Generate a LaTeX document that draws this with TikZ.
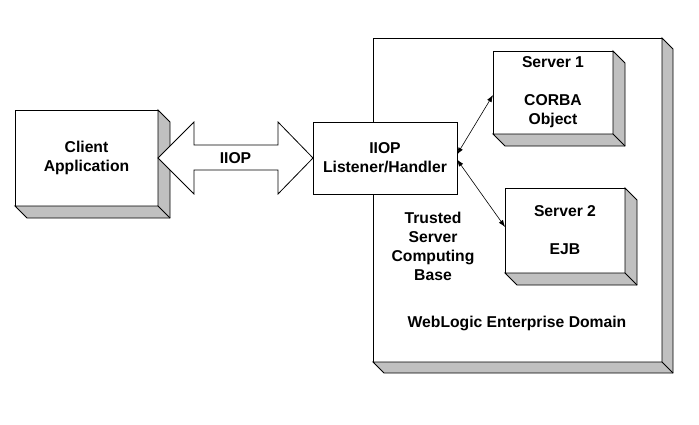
\documentclass[tikz,border=0pt]{standalone}
\usepackage{fontspec}
\setmainfont{Liberation Sans}
\usetikzlibrary{arrows.meta,calc}
\definecolor{depthgrey}{HTML}{C0C0C0}
\newcommand\drawdepth[2]{%
  \filldraw[depthface] (#1.north east) -- ++(#2,#2) -- ($(#1.south east)+(#2,#2)$) -- ($(#1.south west)+(#2,#2)$) -- (#1.south west) -- (#1.south east) -- cycle;
  \draw[depthface] (#1.south east) -- ++(#2,#2);}
\begin{document}
\begin{tikzpicture}[x=1pt,y=-1pt,
  every node/.style={font=\fontsize{15.7}{19}\selectfont\bfseries, align=center, outer sep=0pt, inner sep=0pt},
  boxnode/.style={draw, fill=white, line width=0.9pt},
  depthface/.style={draw, fill=depthgrey, line width=0.9pt, line join=miter},
  link/.style={line width=0.6pt, {Latex[length=7pt,width=5pt]}-{Latex[length=7pt,width=5pt]}},
  fatarrow/.style={draw, fill=white, line width=0.8pt, line join=miter}]
\useasboundingbox (0,0) rectangle (699,424);
% domain
\node[boxnode, minimum width=289pt, minimum height=324pt] (domain) at (517.5,200) {};
\drawdepth{domain}{11}
% servers
\node[boxnode, minimum width=120pt, minimum height=83pt] (s1) at (553,92.5) {Server 1\\ \\ CORBA\\ Object};
\drawdepth{s1}{12}
\node[boxnode, minimum width=120pt, minimum height=85pt] (s2) at (565,230.5) {Server 2\\ \\ EJB};
\drawdepth{s2}{12}
% listener
\node[boxnode, minimum width=144pt, minimum height=72pt] (listener) at (385,158) {IIOP\\ Listener/Handler};
% links
\draw[link] ([yshift=3.5pt]listener.east) -- ([yshift=-2.5pt]s1.west);
\draw[link] ([yshift=-1.5pt]listener.east) -- ([yshift=3.5pt]s2.west);
% client
\node[boxnode, minimum width=143pt, minimum height=96pt] (client) at (86.5,158) {Client\\ Application};
\drawdepth{client}{12}
% fat double arrow
\path (client.east) coordinate (L) (listener.west) coordinate (R);
\filldraw[fatarrow] (L) -- ($(L)+(36,-36)$) -- ($(L)+(36,-13)$) -- ($(R)+(-35,-13)$) -- ($(R)+(-35,-36)$) -- (R) -- ($(R)+(-35,36)$) -- ($(R)+(-35,12)$) -- ($(L)+(36,12)$) -- ($(L)+(36,36)$) -- cycle;
\node (iiop) at ($(L)!0.5!(R)$) {IIOP};
% labels
\node (tscb) at (433,246) {Trusted\\ Server\\ Computing\\ Base};
\node (wled) at (517,323) {WebLogic Enterprise Domain};
\end{tikzpicture}
\end{document}
